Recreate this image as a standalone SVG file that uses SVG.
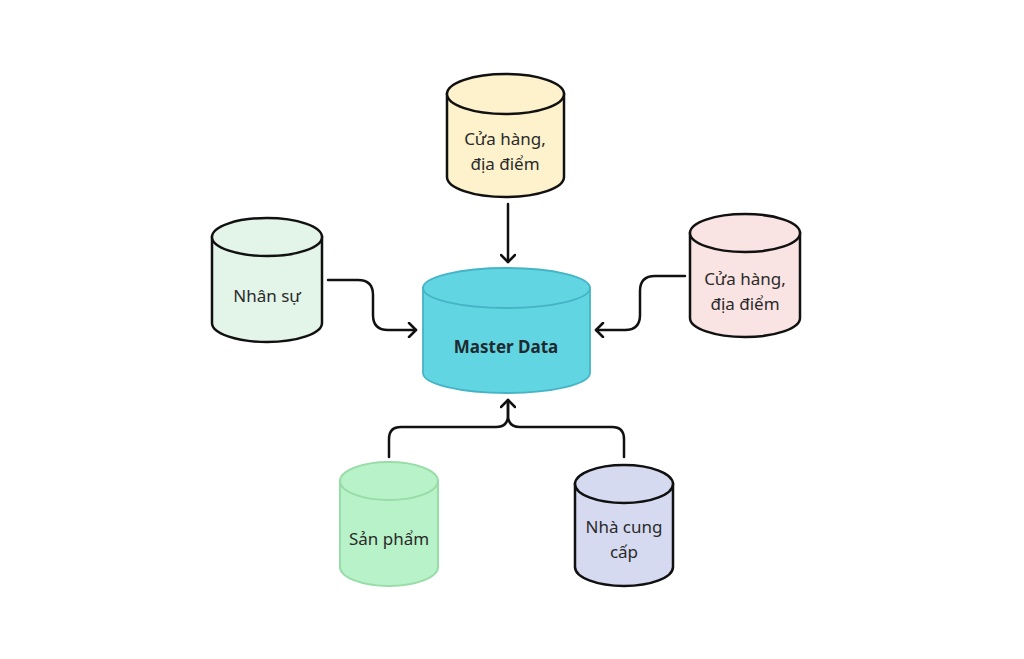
<svg xmlns="http://www.w3.org/2000/svg" width="1024" height="659" viewBox="0 0 1024 659">
<defs>
<marker id="arr" markerUnits="userSpaceOnUse" markerWidth="16" markerHeight="16" viewBox="0 0 16 16" refX="13" refY="8" orient="auto">
<path d="M6,1 L13,8 L6,15" fill="none" stroke="#111" stroke-width="2.5" stroke-linecap="round" stroke-linejoin="round"/>
</marker>
</defs>
<style>
.cyl{stroke:#111;stroke-width:2.5}
.t{font-family:"Noto Sans","Open Sans",sans-serif;font-size:17px;fill:#2a2a2a;text-anchor:middle}
.conn{fill:none;stroke:#111;stroke-width:2.5;stroke-linecap:round;stroke-linejoin:round}
</style>
<rect width="1024" height="659" fill="#ffffff"/>
<g id="connectors">
<path class="conn" d="M508,204 L508,262" marker-end="url(#arr)"/>
<path class="conn" d="M328,280 L358,280 Q373,280 373,295 L373,315 Q373,330 388,330 L416,330" marker-end="url(#arr)"/>
<path class="conn" d="M685,276 L655,276 Q640,276 640,291 L640,315 Q640,330 625,330 L596,330" marker-end="url(#arr)"/>
<path class="conn" d="M389,457 L389,439 Q389,427 401,427 L496,427 Q508,427 508,415 L508,400" marker-end="url(#arr)"/>
<path class="conn" d="M624,457 L624,439 Q624,427 612,427 L520,427 Q508,427 508,415 L508,400"/>
</g>
<g id="node-cuahang-top">
<path class="cyl" fill="#fdf2cc" d="M447,94 L447,177 A58.5,20 0 0 0 564,177 L564,94 Z"/>
<ellipse class="cyl" fill="#fdf2cc" cx="505.5" cy="94" rx="58.5" ry="20"/>
<text class="t" x="505" y="145">Cửa hàng,</text>
<text class="t" x="505" y="170">địa điểm</text>
</g>
<g id="node-nhansu">
<path class="cyl" fill="#e3f4e8" d="M212,237 L212,323 A55,19 0 0 0 322,323 L322,237 Z"/>
<ellipse class="cyl" fill="#e3f4e8" cx="267" cy="237" rx="55" ry="19"/>
<text class="t" x="267" y="302">Nhân sự</text>
</g>
<g id="node-cuahang-right">
<path class="cyl" fill="#fae3e3" d="M690,233 L690,318 A55,19 0 0 0 800,318 L800,233 Z"/>
<ellipse class="cyl" fill="#fae3e3" cx="745" cy="233" rx="55" ry="19"/>
<text class="t" x="745" y="285">Cửa hàng,</text>
<text class="t" x="745" y="310">địa điểm</text>
</g>
<g id="node-master">
<path fill="#62d5e3" stroke="#45b4c4" stroke-width="1.8" d="M423,288 L423,373 A83.5,20 0 0 0 590,373 L590,288 Z"/>
<ellipse fill="#62d5e3" stroke="#45b4c4" stroke-width="1.8" cx="506.5" cy="288" rx="83.5" ry="20"/>
<text class="t" x="506" y="353" style="font-weight:bold;font-size:17px;fill:#1f2a30">Master Data</text>
</g>
<g id="node-sanpham">
<path fill="#b8f2c8" stroke="#98dca8" stroke-width="2" d="M340,481 L340,567 A49,19 0 0 0 438,567 L438,481 Z"/>
<ellipse fill="#b8f2c8" stroke="#98dca8" stroke-width="2" cx="389" cy="481" rx="49" ry="19"/>
<text class="t" x="389" y="545">Sản phẩm</text>
</g>
<g id="node-nhacungcap">
<path class="cyl" fill="#d5daf0" d="M575,484 L575,567 A49,19 0 0 0 673,567 L673,484 Z"/>
<ellipse class="cyl" fill="#d5daf0" cx="624" cy="484" rx="49" ry="19"/>
<text class="t" x="624" y="533">Nhà cung</text>
<text class="t" x="624" y="558">cấp</text>
</g>
</svg>
